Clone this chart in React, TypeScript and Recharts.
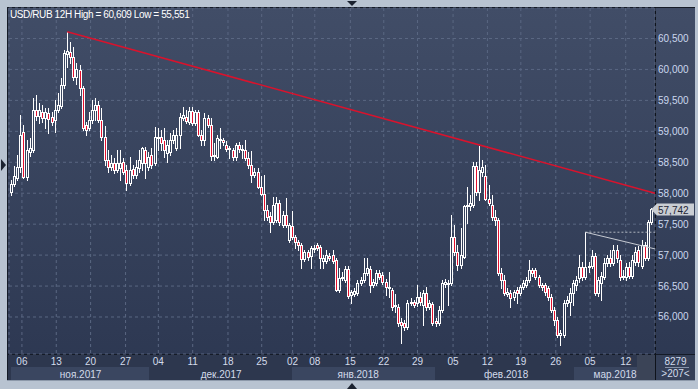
import React from "react";
import { ComposedChart, Bar, XAxis, YAxis, CartesianGrid, ReferenceLine } from "recharts";

// USD/RUB 12H candles: [open, high, low, close]
const candles: [number, number, number, number][] = [
  [58.02, 58.21, 57.97, 58.15], [58.15, 58.44, 58.12, 58.28], [58.25, 58.62, 58.21, 58.42], [58.42, 59.26, 58.34, 58.94],
  [58.99, 59.10, 58.25, 58.26], [58.26, 58.86, 58.21, 58.70], [58.67, 58.89, 58.60, 58.73], [58.70, 59.54, 58.67, 59.34],
  [59.34, 59.59, 59.18, 59.25], [59.25, 59.46, 59.13, 59.34], [59.31, 59.43, 59.15, 59.22], [59.22, 59.38, 59.05, 59.31],
  [59.30, 59.38, 58.97, 59.20], [59.23, 59.31, 59.10, 59.15], [59.18, 59.51, 58.99, 59.34], [59.34, 59.62, 59.31, 59.43],
  [59.41, 59.86, 59.38, 59.75], [59.75, 60.31, 59.70, 60.27], [60.25, 60.609, 60.04, 60.30],
  [60.28, 60.44, 60.10, 60.20], [60.20, 60.36, 59.83, 59.88], [59.88, 60.10, 59.76, 60.01], [59.99, 60.07, 59.59, 59.70],
  [59.70, 59.73, 59.02, 59.05], [59.10, 59.15, 58.94, 59.02], [59.05, 59.31, 59.02, 59.18], [59.18, 59.51, 59.13, 59.34],
  [59.34, 59.54, 59.18, 59.43], [59.43, 59.49, 59.15, 59.18], [59.18, 59.38, 58.86, 58.91], [58.91, 59.09, 58.46, 58.54],
  [58.54, 58.70, 58.34, 58.42], [58.42, 58.62, 58.37, 58.49], [58.49, 58.57, 58.33, 58.37], [58.37, 58.70, 58.34, 58.49],
  [58.41, 58.70, 58.21, 58.49], [58.50, 58.57, 58.31, 58.34], [58.37, 58.46, 58.05, 58.17], [58.17, 58.59, 58.13, 58.37],
  [58.39, 58.46, 58.25, 58.29], [58.29, 58.54, 58.25, 58.42], [58.41, 58.70, 58.34, 58.54], [58.49, 58.75, 58.37, 58.73],
  [58.70, 58.75, 58.25, 58.49], [58.42, 58.67, 58.37, 58.59], [58.62, 58.73, 58.41, 58.46], [58.49, 59.07, 58.46, 58.91],
  [58.91, 59.05, 58.70, 58.89], [58.91, 59.02, 58.70, 58.81], [58.86, 59.05, 58.59, 58.70], [58.65, 58.86, 58.50, 58.78],
  [58.67, 58.97, 58.62, 58.86], [58.86, 59.02, 58.81, 58.94], [58.73, 59.05, 58.70, 58.94], [58.94, 59.30, 58.73, 59.23],
  [59.22, 59.39, 59.18, 59.26], [59.23, 59.34, 59.13, 59.17], [59.15, 59.39, 59.12, 59.33], [59.33, 59.39, 59.10, 59.13],
  [59.13, 59.34, 59.10, 59.31], [59.31, 59.34, 58.92, 58.94], [58.94, 59.02, 58.78, 58.86], [58.86, 59.30, 58.78, 59.22],
  [59.22, 59.26, 59.07, 59.10], [59.10, 59.22, 58.54, 58.60], [58.60, 58.81, 58.54, 58.62], [58.59, 58.94, 58.57, 58.89],
  [58.88, 59.05, 58.73, 58.86], [58.86, 58.89, 58.78, 58.83], [58.78, 58.84, 58.68, 58.71], [58.71, 58.76, 58.57, 58.73],
  [58.70, 58.73, 58.54, 58.59], [58.59, 58.81, 58.54, 58.78], [58.78, 58.83, 58.67, 58.71], [58.71, 58.78, 58.57, 58.70],
  [58.70, 58.86, 58.54, 58.57], [58.57, 58.67, 58.41, 58.46], [58.46, 58.68, 58.18, 58.29], [58.29, 58.41, 58.26, 58.34],
  [58.34, 58.41, 58.08, 58.10], [58.10, 58.28, 57.97, 57.99], [57.99, 58.29, 57.57, 57.73], [57.73, 57.81, 57.57, 57.62],
  [57.63, 57.70, 57.37, 57.53], [57.53, 57.94, 57.50, 57.81], [57.57, 57.94, 57.53, 57.84], [57.84, 57.89, 57.49, 57.53],
  [57.49, 57.71, 57.45, 57.65], [57.65, 57.92, 57.45, 57.49], [57.24, 57.52, 57.21, 57.49], [57.47, 57.71, 57.26, 57.29],
  [57.29, 57.32, 57.11, 57.21], [57.21, 57.24, 57.08, 57.16], [57.16, 57.20, 56.79, 56.94], [56.94, 57.08, 56.90, 57.05],
  [57.05, 57.08, 56.92, 56.97], [56.99, 57.15, 56.79, 57.11], [57.11, 57.16, 57.05, 57.10], [57.16, 57.20, 57.08, 57.11],
  [57.13, 57.16, 56.79, 56.95], [56.90, 57.00, 56.79, 56.95], [56.90, 57.08, 56.87, 57.00], [56.99, 57.03, 56.92, 56.95],
  [57.00, 57.08, 56.87, 56.90], [56.92, 56.95, 56.42, 56.44],
  [56.44, 56.79, 56.40, 56.63], [56.63, 56.73, 56.60, 56.65], [56.60, 56.82, 56.57, 56.78], [56.78, 56.82, 56.31, 56.34],
  [56.35, 56.44, 56.23, 56.40], [56.37, 56.47, 56.34, 56.42], [56.39, 56.60, 56.35, 56.55], [56.55, 56.65, 56.52, 56.60],
  [56.60, 56.95, 56.57, 56.71], [56.71, 56.95, 56.68, 56.79], [56.78, 56.82, 56.40, 56.52], [56.52, 56.61, 56.48, 56.57],
  [56.55, 56.76, 56.52, 56.71], [56.71, 56.76, 56.61, 56.65], [56.68, 56.73, 56.53, 56.57], [56.57, 56.61, 56.35, 56.48],
  [56.48, 56.73, 56.32, 56.47], [56.44, 56.47, 56.11, 56.16], [56.19, 56.37, 56.08, 56.18], [56.16, 56.21, 55.85, 55.90],
  [55.92, 55.98, 55.58, 55.87], [55.90, 55.95, 55.79, 55.84], [55.84, 56.27, 55.81, 56.23], [56.23, 56.31, 56.19, 56.24],
  [56.24, 56.27, 56.16, 56.19], [56.23, 56.52, 56.18, 56.32], [56.32, 56.40, 56.19, 56.24], [56.19, 56.44, 55.87, 56.39],
  [56.39, 56.48, 56.11, 56.16], [56.16, 56.27, 56.13, 56.23], [56.21, 56.24, 55.87, 55.90], [55.93, 55.98, 55.85, 55.90],
  [55.90, 56.18, 55.87, 56.11], [56.11, 56.60, 56.08, 56.55], [56.53, 56.61, 56.48, 56.57], [56.53, 56.60, 56.19, 56.55],
  [56.55, 57.65, 56.52, 57.29], [57.29, 57.49, 57.00, 57.05], [57.05, 57.16, 56.76, 56.84], [56.84, 57.44, 56.79, 57.00],
  [56.97, 57.81, 56.95, 57.79], [57.79, 58.10, 57.52, 57.81], [57.79, 57.97, 57.73, 57.84], [57.81, 58.50, 57.78, 58.44],
  [58.44, 58.50, 57.97, 58.02], [58.02, 58.76, 57.89, 58.37],
  [58.34, 58.54, 58.28, 58.42], [58.28, 58.46, 57.89, 57.91], [57.91, 58.13, 57.81, 57.84], [57.81, 57.97, 57.57, 57.62],
  [57.62, 57.73, 57.49, 57.57], [57.57, 57.60, 56.68, 56.71], [56.71, 56.79, 56.47, 56.60], [56.60, 56.68, 56.35, 56.39],
  [56.37, 56.47, 56.34, 56.40], [56.39, 56.44, 56.16, 56.31], [56.32, 56.44, 56.27, 56.40], [56.44, 56.48, 56.23, 56.39],
  [56.39, 56.52, 56.35, 56.48], [56.48, 56.60, 56.45, 56.55], [56.52, 56.65, 56.48, 56.60], [56.60, 56.92, 56.57, 56.76],
  [56.76, 56.79, 56.66, 56.71], [56.76, 56.79, 56.61, 56.65], [56.65, 56.68, 56.48, 56.52], [56.52, 56.55, 56.44, 56.48],
  [56.52, 56.55, 56.35, 56.40], [56.47, 56.50, 56.27, 56.32], [56.32, 56.37, 56.08, 56.11], [56.11, 56.16, 55.87, 55.95],
  [55.95, 56.00, 55.68, 55.71], [55.71, 55.79, 55.551, 55.74],
  [55.71, 56.27, 55.68, 56.23], [56.23, 56.34, 56.18, 56.27], [56.24, 56.47, 56.03, 56.39], [56.39, 56.60, 56.19, 56.55],
  [56.52, 56.66, 56.44, 56.60], [56.63, 57.00, 56.57, 56.81], [56.81, 56.89, 56.60, 56.65], [56.65, 57.37, 56.61, 56.81],
  [56.81, 56.89, 56.73, 56.82], [56.82, 57.08, 56.79, 56.99], [56.99, 57.03, 56.35, 56.39], [56.39, 56.65, 56.34, 56.60],
  [56.55, 56.73, 56.27, 56.66], [56.65, 56.95, 56.61, 56.87], [56.87, 57.00, 56.82, 56.95], [56.95, 57.08, 56.82, 56.87],
  [56.87, 57.16, 56.84, 57.08], [57.08, 57.16, 56.89, 56.95], [56.92, 57.00, 56.60, 56.65], [56.65, 56.76, 56.61, 56.66],
  [56.65, 56.87, 56.60, 56.81], [56.81, 56.89, 56.63, 56.66], [56.66, 57.00, 56.63, 56.92], [56.89, 57.13, 56.84, 57.05],
  [57.08, 57.15, 56.82, 56.89], [56.82, 57.24, 56.79, 57.16], [57.16, 57.21, 56.92, 56.95], [56.95, 57.57, 56.92, 57.53],
  [57.53, 57.76, 57.50, 57.742],
];

const dateTicks = [3.5, 14.5, 25.5, 36.7, 47.2, 58.2, 69.5, 80.3, 90.2, 97.3, 108.7, 119.4, 130.2, 141.6, 152.6, 163.3, 174.5, 185.5, 196.9];
const dateLabels = ["06", "13", "20", "27", "04", "11", "18", "25", "02", "08", "15", "22", "29", "05", "12", "19", "26", "05", "12"];
const monthTicks = [22.3, 67.3, 111.2, 158.6, 193.5];
const monthLabels = ["ноя.2017", "дек.2017", "янв.2018", "фев.2018", "мар.2018"];
const priceTicks = [56, 56.5, 57, 57.5, 58, 58.5, 59, 59.5, 60, 60.5];
const lastPrice = 57.742;
const resistanceLine = [{ x: 18, y: 60.609 }, { x: 206.28, y: 58.0 }];
const triangleHigh = { x: 184, y: 57.37 };
const triangleEnd = { x: 206.28, y: 57.1 };

const data = candles.map(([o, h, l, c], i) => ({ i, o, h, l, c, range: [l, h] }));

const X_DOMAIN: [number, number] = [-0.64, 206.28];
const Y_DOMAIN: [number, number] = [55.402, 60.993];

const fmt = (v: number) => v.toFixed(3).replace(".", ",");

const Candle = (props: any) => {
  const { x, y, width, height, payload } = props;
  if (!payload) return null;
  const { o, h, l, c } = payload;
  const top = Math.min(y, y + height);
  const bottom = Math.max(y, y + height);
  const span = h - l || 1;
  const py = (v: number) => top + ((h - v) / span) * (bottom - top);
  const cx = Math.round(x + width / 2);
  const bodyTop = Math.round(py(Math.max(o, c)));
  let bodyBot = Math.round(py(Math.min(o, c)));
  if (bodyBot - bodyTop < 1) bodyBot = bodyTop + 1;
  const up = c >= o;
  return (
    <g>
      <line x1={cx + 0.5} x2={cx + 0.5} y1={Math.round(top)} y2={bodyTop} stroke="#ffffff" strokeWidth={1} />
      <line x1={cx + 0.5} x2={cx + 0.5} y1={bodyBot + 1} y2={Math.round(bottom) + 1} stroke="#ffffff" strokeWidth={1} />
      <rect
        x={cx - 0.5}
        y={bodyTop + 0.5}
        width={2}
        height={bodyBot - bodyTop}
        fill={up ? "none" : "#e3102e"}
        stroke="#ffffff"
        strokeWidth={1}
      />
    </g>
  );
};

const DateTick = ({ x, y, payload }: any) => {
  const idx = dateTicks.findIndex((t) => Math.abs(t - payload.value) < 0.01);
  return (
    <text x={x} y={y + 10.5} textAnchor="middle" fill="#d3dbeb" fontSize={10}>
      {dateLabels[idx]}
    </text>
  );
};

const MonthTick = ({ x, y, payload }: any) => {
  const idx = monthTicks.findIndex((t) => Math.abs(t - payload.value) < 0.01);
  return (
    <text x={x} y={y + 10.5} textAnchor="middle" fill="#d3dbeb" fontSize={10}>
      {monthLabels[idx]}
    </text>
  );
};

const PriceTick = ({ x, y, payload }: any) => (
  <text x={x + 3} y={y + 3.5} fill="#cbd7ee" fontSize={10}>
    {fmt(payload.value)}
  </text>
);

const PriceTag = (props: any) => {
  const vb = props.viewBox || {};
  const right = (vb.x || 0) + (vb.width || 0);
  const y = Math.round(vb.y || 0) + 0.5;
  return (
    <g>
      <polygon
        points={`${right - 4},${y} ${right + 2},${y - 6} ${right + 39},${y - 6} ${right + 39},${y + 6} ${right + 2},${y + 6}`}
        fill="#c9cdd3"
      />
      <text x={right + 3} y={y + 4} fill="#1d2433" fontSize={10}>
        {fmt(lastPrice)}
      </text>
    </g>
  );
};

const abs = (s: React.CSSProperties): React.CSSProperties => ({ position: "absolute", ...s });

export default function App() {
  return (
    <div
      style={abs({
        left: 0,
        top: 0,
        width: 698,
        height: 389,
        background: "#b8c3d1",
        overflow: "hidden",
        fontFamily: "'Liberation Sans', Arial, sans-serif",
      })}
    >
      {/* panel background */}
      <div style={abs({ left: 8, top: 7, width: 687, height: 374, background: "linear-gradient(#414d67, #2c3751)" })} />
      {/* bottom scale rows */}
      <div style={abs({ left: 8, top: 354, width: 647, height: 27, background: "#2d374e" })} />
      <div style={abs({ left: 11, top: 367, width: 138, height: 13, background: "#3a4660" })} />
      <div style={abs({ left: 292, top: 367, width: 143, height: 13, background: "#3a4660" })} />
      <div style={abs({ left: 574, top: 367, width: 63, height: 13, background: "#3a4660" })} />
      <div style={abs({ left: 637, top: 355, width: 18, height: 25, background: "#3b4457" })} />
      <div style={abs({ left: 656, top: 354, width: 39, height: 27, background: "#354058" })} />
      {/* frame lines */}
      <div style={abs({ left: 7, top: 7, width: 1, height: 374, background: "#151b27" })} />
      <div style={abs({ left: 7, top: 7, width: 688, height: 1, background: "#151b27" })} />
      <div style={abs({ left: 8, top: 354, width: 687, height: 1, background: "#151b27" })} />
      <div style={abs({ left: 655, top: 7, width: 1, height: 374, background: "#0f131b" })} />
      <div style={abs({ left: 7, top: 380, width: 688, height: 1, background: "#8d99aa" })} />

      <div style={abs({ left: 0, top: 0 })}>
        <ComposedChart width={698} height={389} data={data} margin={{ top: 8, right: 0, bottom: 9, left: 9 }}>
          <CartesianGrid stroke="#5a6782" strokeDasharray="3 3" />
          <XAxis
            dataKey="i"
            type="number"
            domain={X_DOMAIN}
            allowDataOverflow
            ticks={dateTicks}
            interval={0}
            height={13}
            axisLine={false}
            tickLine={false}
            tickSize={0}
            tickMargin={0}
            tick={<DateTick />}
          />
          <XAxis
            xAxisId="m"
            dataKey="i"
            type="number"
            domain={X_DOMAIN}
            allowDataOverflow
            ticks={monthTicks}
            interval={0}
            height={13}
            axisLine={false}
            tickLine={false}
            tickSize={0}
            tickMargin={0}
            tick={<MonthTick />}
          />
          <YAxis
            orientation="right"
            type="number"
            domain={Y_DOMAIN}
            allowDataOverflow
            ticks={priceTicks}
            interval={0}
            width={43}
            axisLine={false}
            tickLine={false}
            tickSize={0}
            tickMargin={0}
            tick={<PriceTick />}
          />
          <Bar dataKey="range" barSize={3} isAnimationActive={false} shape={(p: any) => <Candle {...p} />} />
          <ReferenceLine segment={resistanceLine} stroke="#d8132d" strokeWidth={1.5} ifOverflow="visible" />
          <ReferenceLine
            segment={[triangleHigh, { x: triangleEnd.x, y: triangleHigh.y }]}
            stroke="#aeb4be"
            strokeDasharray="2 2"
            ifOverflow="visible"
          />
          <ReferenceLine segment={[triangleHigh, triangleEnd]} stroke="#c6cad2" strokeWidth={1} ifOverflow="visible" />
          <ReferenceLine y={lastPrice} stroke="none" ifOverflow="visible" label={(p: any) => <PriceTag {...p} />} />
        </ComposedChart>
      </div>

      {/* title */}
      <div style={abs({ left: 10, top: 9, fontSize: 10, color: "#ffffff", letterSpacing: -0.4, whiteSpace: "nowrap" })}>
        USD/RUB 12H High = 60,609 Low = 55,551
      </div>
      {/* bar counter */}
      <div style={abs({ left: 656, top: 356, width: 39, textAlign: "center", fontSize: 10, color: "#d3dbeb" })}>8279</div>
      <div style={abs({ left: 665, top: 367, width: 24, height: 1, background: "#8692a8" })} />
      <div style={abs({ left: 656, top: 368, width: 39, textAlign: "center", fontSize: 10, color: "#d3dbeb" })}>&gt;207&lt;</div>

      {/* navigation arrows */}
      <svg style={abs({ left: 0, top: 0 })} width={698} height={389}>
        <polygon points="347,1 357,1 352,6" fill="#1b2230" />
        <polygon points="347,389 357,389 352,383" fill="#1b2230" />
        <polygon points="1,159 1,171 6,165" fill="#1b2230" />
      </svg>
    </div>
  );
}
